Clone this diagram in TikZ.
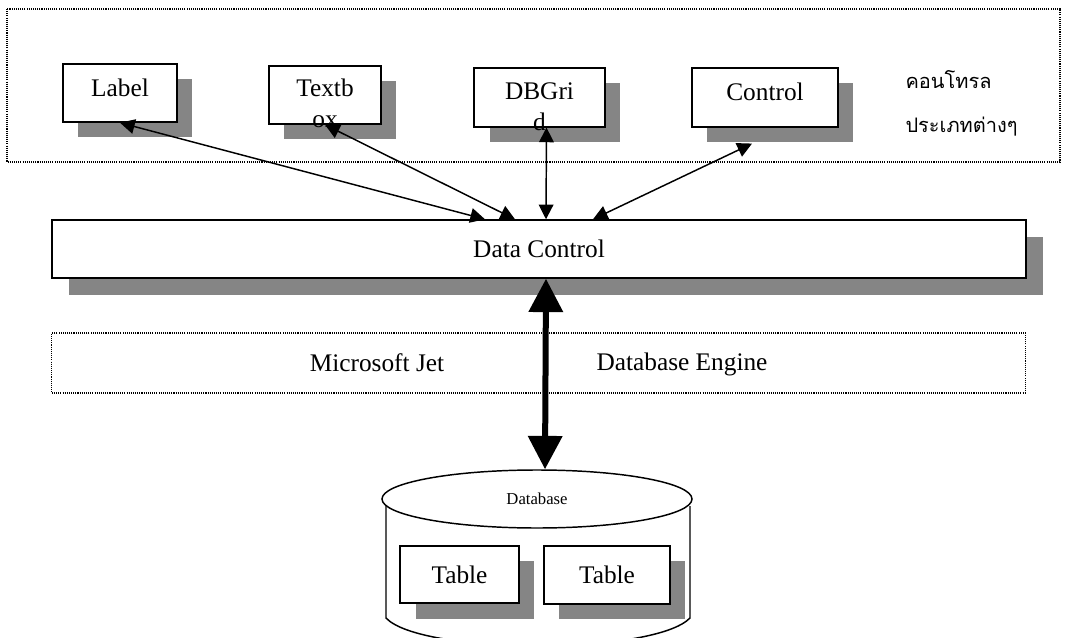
\documentclass[tikz,border=0pt]{standalone}
\usepackage{fontspec}
\setmainfont{Liberation Serif}
\newfontfamily\thaifont[Script=Thai]{Loma}
\usetikzlibrary{arrows.meta,shapes.geometric,shadows}

\tikzset{every picture/.style={line width=0.75pt}}
\tikzset{
	ctrlbox/.style={draw, line width=1.1pt, fill=white, inner sep=0pt, font=\fontsize{19}{23}\selectfont, drop shadow={shadow xshift=#1, shadow yshift=-#1, fill=black!48, opacity=1}},
	ctrlbox/.default=11.5pt,
	ctrltext/.style={anchor=north, align=center, inner sep=0pt, font=\fontsize{19}{23}\selectfont},
	dotbox/.style={line width=0.9pt, dash pattern=on 0.8pt off 0.8pt},
	link/.style={line width=1.1pt, {Triangle[length=11pt,width=11pt]}-{Triangle[length=11pt,width=11pt]}},
	biglink/.style={line width=4.5pt, {Triangle[length=25pt,width=25pt]}-{Triangle[length=25pt,width=25pt]}}
}

\begin{document}
\begin{tikzpicture}[x=0.75pt,y=0.75pt,yscale=-1]
	\useasboundingbox (0,0) rectangle (1077,638);
	\draw [dotbox] (7,9) rectangle (1060,162);
	\node [ctrlbox, minimum width=85.5pt, minimum height=43.5pt] (label) at (120,93) {};
	\node [ctrltext] (labeltext) at ([yshift=11pt]label.north) {Label};
	\node [ctrlbox, minimum width=84pt, minimum height=43.5pt] (textbox) at (325,95) {};
	\node [ctrltext] (textboxtext) at ([yshift=10pt]textbox.north) {Textb\\ox};
	\node [ctrlbox, minimum width=98pt, minimum height=44pt] (dbgrid) at (539.5,97.5) {};
	\node [ctrltext] (dbgridtext) at ([yshift=11pt]dbgrid.north) {DBGri\\d};
	\node [ctrlbox, minimum width=109.5pt, minimum height=44pt] (control) at (765,97.5) {};
	\node [ctrltext] (controltext) at ([yshift=11pt]control.north) {Control};
	\node [anchor=north west, align=left, inner sep=0pt, font=\thaifont\fontsize{15}{33}\selectfont] (kinds) at (905,70) {คอนโทรล\\ประเภทต่างๆ};

	\node [ctrlbox=12.75pt, minimum width=730.5pt, minimum height=43.5pt] (dc) at (539,249) {Data Control};

	\node [draw, dotbox, minimum width=730pt, minimum height=45pt] (jet) at (538.5,363) {};
	\node [font=\fontsize{19}{23}\selectfont] (jettext) at (377,363) {Microsoft Jet};
	\node [font=\fontsize{19}{23}\selectfont] (enginetext) at (682,364) {Database Engine};

	\draw [line width=1.1pt] (386,506) -- (386,618) .. controls (421,655) and (654,655) .. (690,618) -- (690,506);
	\node [ellipse, draw, line width=1.1pt, fill=white, minimum width=232.5pt, minimum height=43.5pt, font=\fontsize{12.5}{15}\selectfont] (db) at (537,499) {Database};
	\node [ctrlbox, minimum width=89pt, minimum height=43pt] (tablea) at (459.5,574.5) {Table};
	\node [ctrlbox, minimum width=94.5pt, minimum height=43.5pt] (tableb) at (607,575) {Table};

	\draw [link] (label.south) -- ([xshift=-40.5pt]dc.north);
	\draw [link] (textbox.south) -- ([xshift=-18pt]dc.north);
	\draw [link] ([xshift=5.25pt]dbgrid.south) -- ([xshift=5.25pt]dc.north);
	\draw [link] ([xshift=-9.75pt,yshift=12pt]control.south) -- ([xshift=40.5pt]dc.north);
	\draw [biglink] ([xshift=5.25pt]dc.south) -- ([xshift=6pt]db.north);
\end{tikzpicture}
\end{document}
